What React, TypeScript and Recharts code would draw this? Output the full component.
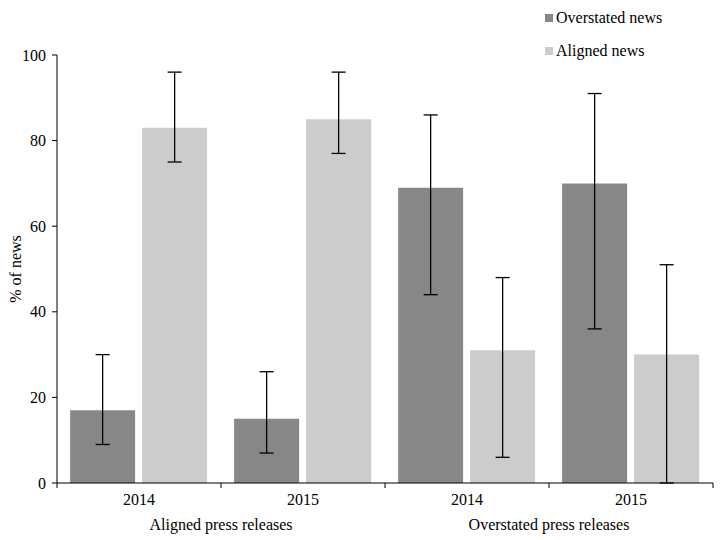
import React from "react";
import { BarChart, Bar, XAxis, YAxis, ErrorBar, Legend } from "recharts";

const years = ["2014", "2015", "2014", "2015"];
const groups = ["Aligned press releases", "", "Overstated press releases", ""];
const overstatedNews = [17, 15, 69, 70];
const overstatedLow = [9, 7, 44, 36];
const overstatedHigh = [30, 26, 86, 91];
const alignedNews = [83, 85, 31, 30];
const alignedLow = [75, 77, 6, 0];
const alignedHigh = [96, 96, 48, 51];
const yTicks = [0, 20, 40, 60, 80, 100];

const DARK = "#878787";
const LIGHT = "#cccccc";
const FONT = "'Liberation Serif', 'Times New Roman', serif";

const data = years.map((y, i) => ({
  year: y,
  group: groups[i],
  over: overstatedNews[i],
  overErr: [overstatedNews[i] - overstatedLow[i], overstatedHigh[i] - overstatedNews[i]],
  aligned: alignedNews[i],
  alignedErr: [alignedNews[i] - alignedLow[i], alignedHigh[i] - alignedNews[i]],
}));

const legendItems = [
  { label: "Overstated news", color: DARK },
  { label: "Aligned news", color: LIGHT },
];

const LegendContent = () => (
  <div style={{ fontFamily: FONT, fontSize: 16, color: "#000" }}>
    {legendItems.map((it) => (
      <div key={it.label} style={{ display: "flex", alignItems: "center", height: 33 }}>
        <span style={{ display: "inline-block", width: 8, height: 8, background: it.color, marginRight: 3 }} />
        <span>{it.label}</span>
      </div>
    ))}
  </div>
);

const CatTick = (props: any) => {
  const { x, y, payload, index } = props;
  const half = payload && typeof payload.offset === "number" ? payload.offset : 0;
  const i = typeof index === "number" ? index : payload.index;
  const group = groups[i];
  return (
    <g>
      {i === 0 && half > 0 && <line x1={x - half} x2={x - half} y1={y - 11} y2={y - 6} stroke="#000" />}
      {half > 0 && <line x1={x + half} x2={x + half} y1={y - 11} y2={y - 6} stroke="#000" />}
      <text x={x} y={y} dy="0.71em" textAnchor="middle" fontFamily={FONT} fontSize={16} fill="#000">
        {payload.value}
      </text>
      {group && (
        <text x={x + half} y={y + 25} dy="0.71em" textAnchor="middle" fontFamily={FONT} fontSize={16} fill="#000">
          {group}
        </text>
      )}
    </g>
  );
};

const YTick = (props: any) => {
  const { x, y, payload } = props;
  return (
    <text x={x} y={y} dy="0.355em" textAnchor="end" fontFamily={FONT} fontSize={16} fill="#000">
      {payload.value}
    </text>
  );
};

export default function App() {
  return (
    <div style={{ position: "absolute", left: 0, top: 0, background: "#fff", fontFamily: FONT }}>
      <BarChart
        width={724}
        height={540}
        data={data}
        margin={{ top: 55, right: 11, bottom: 27, left: 17 }}
        barCategoryGap="8%"
        barGap={7}
        style={{ fontFamily: FONT }}
      >
        <XAxis
          dataKey="year"
          height={30}
          axisLine={{ stroke: "#000" }}
          tickLine={false}
          tickSize={5}
          tickMargin={6}
          interval={0}
          allowDuplicatedCategory
          tick={<CatTick />}
        />
        <YAxis
          domain={[0, 100]}
          ticks={yTicks}
          width={40}
          axisLine={{ stroke: "#000" }}
          tickLine={{ stroke: "#000" }}
          tickSize={5}
          tickMargin={6}
          tick={<YTick />}
          label={{
            value: "% of news",
            angle: -90,
            position: "center",
            dx: -22,
            style: { fontFamily: FONT, fontSize: 16, fill: "#000" },
          }}
        />
        <Legend
          layout="vertical"
          align="center"
          verticalAlign="middle"
          content={<LegendContent />}
          wrapperStyle={{ left: 545, top: 1, width: 180 }}
        />
        <Bar dataKey="over" name="Overstated news" fill={DARK} isAnimationActive={false}>
          <ErrorBar dataKey="overErr" width={7} stroke="#000" strokeWidth={1.3} />
        </Bar>
        <Bar dataKey="aligned" name="Aligned news" fill={LIGHT} isAnimationActive={false}>
          <ErrorBar dataKey="alignedErr" width={7} stroke="#000" strokeWidth={1.3} />
        </Bar>
      </BarChart>
    </div>
  );
}
